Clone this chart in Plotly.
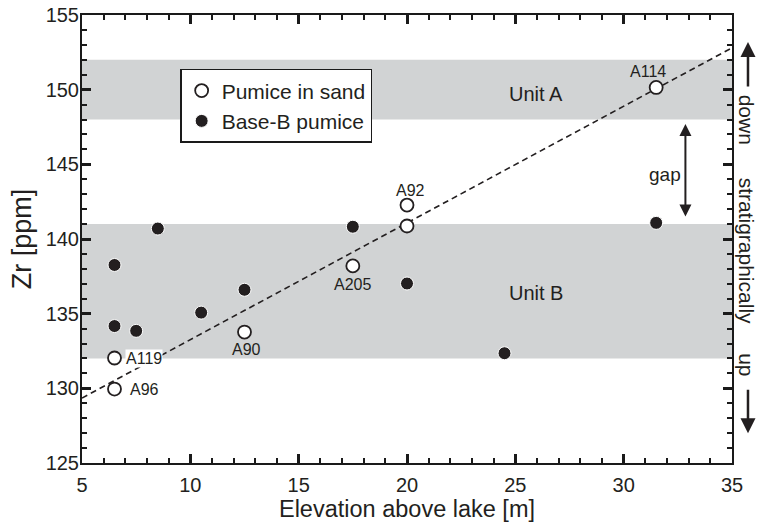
import plotly.graph_objects as go

# --- data ---
sand_x = [6.5, 6.5, 12.5, 17.5, 20.0, 20.0, 31.5]
sand_y = [129.95, 132.03, 133.77, 138.2, 142.27, 140.87, 150.15]
baseb_x = [6.5, 6.5, 7.5, 8.5, 10.5, 12.5, 17.5, 20.0, 24.5, 31.5]
baseb_y = [138.26, 134.17, 133.85, 140.7, 135.07, 136.6, 140.82, 137.02, 132.35, 141.08]
trend_x = [5, 35]
trend_y = [129.35, 152.8]
unitA = [148, 152]
unitB = [132, 141]
labels = ["A96", "A119", "A90", "A205", "A92", "A114"]
label_x = [7.17, 6.98, 12.57, 17.5, 20.14, 31.1]
label_y = [129.95, 132.0, 132.63, 136.92, 143.28, 151.2]

FONT = "Liberation Sans, Arial, sans-serif"
INK = "#231f20"
AXC = "#1a1a1a"
GRAY = "#d1d3d4"

fig = go.Figure()
fig.add_trace(go.Scatter(x=trend_x, y=trend_y, mode="lines",
                         line=dict(color=INK, width=1.6, dash="6px,4px"),
                         showlegend=False, hoverinfo="skip"))
fig.add_trace(go.Scatter(x=sand_x, y=sand_y, mode="markers", name="Pumice in sand",
                         marker=dict(symbol="circle", size=13, color="white",
                                     line=dict(color=INK, width=1.8))))
fig.add_trace(go.Scatter(x=baseb_x, y=baseb_y, mode="markers", name="Base-B pumice",
                         marker=dict(symbol="circle", size=13, color=INK,
                                     line=dict(color="white", width=1))))

for lo, hi in (unitA, unitB):
    fig.add_shape(type="rect", xref="paper", x0=0, x1=1, yref="y", y0=lo, y1=hi,
                  fillcolor=GRAY, line=dict(width=0), layer="below")

ann = []
for i, t in enumerate(labels):
    if t in ("A96", "A119"):
        ann.append(dict(x=label_x[i], y=label_y[i], text=t, showarrow=False,
                        xanchor="left", yanchor="middle",
                        bgcolor="white" if t == "A119" else None, borderpad=0,
                        font=dict(size=16, color=INK, family=FONT)))
    else:
        ann.append(dict(x=label_x[i], y=label_y[i], text=t, showarrow=False,
                        xanchor="center", yanchor="middle",
                        font=dict(size=16, color=INK, family=FONT)))

side_font = dict(size=21, color=INK, family=FONT)
ann += [
    dict(x=25.95, y=149.7, text="Unit A", showarrow=False,
         font=dict(size=20, color=INK, family=FONT)),
    dict(x=25.95, y=136.38, text="Unit B", showarrow=False,
         font=dict(size=20, color=INK, family=FONT)),
    dict(x=31.9, y=144.35, text="gap", showarrow=False,
         font=dict(size=19, color=INK, family=FONT)),
    dict(x=32.85, y=147.7, ax=32.85, ay=141.4, axref="x", ayref="y", text="",
         showarrow=True, arrowhead=2, startarrowhead=2, arrowside="end+start",
         arrowsize=1.2, arrowwidth=2, arrowcolor=INK, standoff=0, startstandoff=0),
    dict(xref="paper", x=1.022, y=147.97, text="down", textangle=90, showarrow=False,
         xanchor="center", yanchor="middle", font=side_font),
    dict(xref="paper", x=1.022, y=139.2, text="stratigraphically", textangle=90,
         showarrow=False, xanchor="center", yanchor="middle", font=side_font),
    dict(xref="paper", x=1.022, y=131.6, text="up", textangle=90, showarrow=False,
         xanchor="center", yanchor="middle", font=side_font),
    dict(xref="paper", x=1.0246, y=153.2, ax=0, ay=46, text="", showarrow=True,
         arrowhead=2, arrowsize=1.2, arrowwidth=2.5, arrowcolor=INK, standoff=0),
    dict(xref="paper", x=1.0246, y=127.0, ax=0, ay=-45, text="", showarrow=True,
         arrowhead=2, arrowsize=1.2, arrowwidth=2.5, arrowcolor=INK, standoff=0),
]

fig.update_layout(
    template="none",
    width=759, height=522,
    margin=dict(l=82, r=27, t=15, b=59),
    plot_bgcolor="white", paper_bgcolor="white",
    font=dict(family=FONT, color=INK),
    showlegend=True,
    legend=dict(x=0.151, y=0.797, xanchor="left", yanchor="middle",
                bgcolor="white", bordercolor=AXC, borderwidth=1.5,
                font=dict(size=21, color=INK, family=FONT),
                tracegroupgap=0, itemwidth=30),
    annotations=ann,
)
axis_common = dict(showgrid=False, zeroline=False, showline=True, linecolor=AXC,
                   linewidth=2, mirror="ticks", ticks="inside", ticklen=9,
                   tickwidth=2.5, tickcolor=AXC, automargin=False, layer="above traces",
                   tickfont=dict(size=20, color=INK, family=FONT),
                   minor=dict(dtick=1, ticks="inside", ticklen=5, tickwidth=2,
                              tickcolor=AXC, showgrid=False))
fig.update_xaxes(range=[5, 35], dtick=5, tick0=5, ticklabelstandoff=3,
                 title=dict(text="Elevation above lake [m]", standoff=8,
                            font=dict(size=23.5, color=INK, family=FONT)),
                 **axis_common)
fig.update_yaxes(range=[125, 155], dtick=5, tick0=125, ticklabelstandoff=-3,
                 title=dict(text="Zr [ppm]", standoff=6,
                            font=dict(size=27, color=INK, family=FONT)),
                 **axis_common)

fig.write_html("out.html")
